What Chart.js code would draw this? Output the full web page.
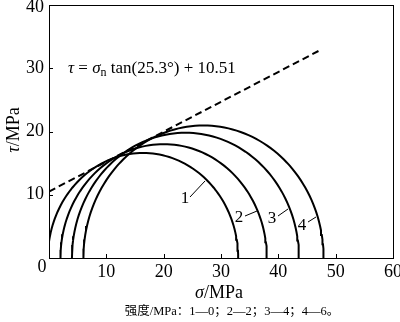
<!DOCTYPE html>
<html>
<head>
<meta charset="utf-8">
<script src="https://cdn.jsdelivr.net/npm/chart.js@4.4.0/dist/chart.umd.min.js"></script>
<style>
  html, body { margin: 0; padding: 0; background: #fff; }
  #wrap { width: 400px; height: 322px; }
</style>
</head>
<body>
<div id="wrap"><canvas id="myChart" width="400" height="322"></canvas></div>
<script>
// Mohr circles: minor and major principal stress (MPa)
var circleNames = ['1', '2', '3', '4'];
var sigma3 = [-0.2, 2, 4, 6];
var sigma1 = [33.0, 38.0, 43.6, 47.9];

// strength envelope: tau = sigma * tan(phi) + c
var phiDeg = 25.3;
var cohesion = 10.51;
var envelopeX = [0, 47];

var xTicks = [0, 10, 20, 30, 40, 50, 60];
var yTicks = [0, 10, 20, 30, 40];

// label "n" placed near each circle, with leader end points
var labelPos = [[185, 199], [239, 218], [272, 219], [302, 226]];
var leaderFrom = [[190, 197], [245, 216], [278, 216], [308, 222]];
var leaderTo = [[205, 181], [257, 211], [288, 209], [316, 217]];

var serif = '"Liberation Serif", "Times New Roman", serif';

var semicircle = function (s3, s1) {
    var c = (s3 + s1) / 2, r = (s1 - s3) / 2;
    var pts = [];
    for (var a = 0; a <= 180; a += 2) {
        var t = a * Math.PI / 180;
        pts.push({ x: c + r * Math.cos(t), y: r * Math.sin(t) });
    }
    return pts;
};

var datasets = [];
for (var i = 0; i < circleNames.length; i++) {
    datasets.push({
        label: circleNames[i],
        data: semicircle(sigma3[i], sigma1[i]),
        showLine: true,
        borderColor: '#000',
        borderWidth: 2,
        pointRadius: 0,
        tension: 0
    });
}
var tanPhi = Math.tan(phiDeg * Math.PI / 180);
datasets.push({
    label: 'envelope',
    data: envelopeX.map(function (x) { return { x: x, y: x * tanPhi + cohesion }; }),
    showLine: true,
    borderColor: '#000',
    borderWidth: 2,
    borderDash: [7, 4],
    pointRadius: 0
});

var decorPlugin = {
    id: 'decor',
    afterDraw: function (chart) {
        var ctx = chart.ctx;
        var area = chart.chartArea;
        var xs = chart.scales.x, ys = chart.scales.y;
        ctx.save();
        ctx.strokeStyle = '#000';
        ctx.lineWidth = 1;
        ctx.strokeRect(area.left + 0.5, area.top + 0.5, area.right - area.left, area.bottom - area.top);
        // inward ticks
        ctx.beginPath();
        xTicks.forEach(function (v) {
            var px = Math.round(xs.getPixelForValue(v)) + 0.5;
            ctx.moveTo(px, area.bottom);
            ctx.lineTo(px, area.bottom - 4);
        });
        yTicks.forEach(function (v) {
            var py = Math.round(ys.getPixelForValue(v)) + 0.5;
            ctx.moveTo(area.left, py);
            ctx.lineTo(area.left + 4, py);
        });
        ctx.stroke();

        ctx.fillStyle = '#000';
        ctx.textBaseline = 'middle';
        // shared origin label, and top label kept inside the canvas
        ctx.font = '18px ' + serif;
        ctx.textAlign = 'center';
        ctx.fillText('0', 42, 267);
        ctx.textAlign = 'right';
        ctx.fillText(String(yTicks[yTicks.length - 1]), 44, 7);

        // circle labels and leaders
        ctx.textAlign = 'center';
        ctx.font = '17px ' + serif;
        for (var i = 0; i < circleNames.length; i++) {
            ctx.fillText(circleNames[i], labelPos[i][0], labelPos[i][1]);
            ctx.beginPath();
            ctx.moveTo(leaderFrom[i][0], leaderFrom[i][1]);
            ctx.lineTo(leaderTo[i][0], leaderTo[i][1]);
            ctx.stroke();
        }

        // equation
        ctx.textAlign = 'left';
        var x = 68, y = 69;
        var parts = [
            ['italic 17px ' + serif, '\u03c4', 0],
            ['17px ' + serif, ' = ', 0],
            ['italic 17px ' + serif, '\u03c3', 0],
            ['12px ' + serif, 'n', 4],
            ['17px ' + serif, ' tan(' + phiDeg + '\u00b0) + ' + cohesion, 0]
        ];
        parts.forEach(function (p) {
            ctx.font = p[0];
            ctx.fillText(p[1], x, y + p[2]);
            x += ctx.measureText(p[1]).width;
        });

        // axis titles
        var drawRun = function (runs, cx, cy) {
            var w = 0;
            runs.forEach(function (r) { ctx.font = r[0]; w += ctx.measureText(r[1]).width; });
            var sx = cx - w / 2;
            runs.forEach(function (r) {
                ctx.font = r[0];
                ctx.fillText(r[1], sx, cy);
                sx += ctx.measureText(r[1]).width;
            });
        };
        ctx.textAlign = 'left';
        drawRun([['italic 18px ' + serif, '\u03c3'], ['18px ' + serif, '/MPa']], 219, 293);

        ctx.save();
        ctx.translate(14, 130);
        ctx.rotate(-Math.PI / 2);
        drawRun([['italic 18px ' + serif, '\u03c4'], ['18px ' + serif, '/MPa']], 0, 0);
        ctx.restore();

        // caption
        ctx.font = '12.5px "Liberation Serif", "Noto Sans CJK SC"';
        ctx.textAlign = 'center';
        ctx.fillText('\u5f3a\u5ea6/MPa\uff1a1\u20140\uff1b2\u20142\uff1b3\u20144\uff1b4\u20146\u3002', 232, 312);
        ctx.restore();
    }
};

new Chart(document.getElementById('myChart'), {
    type: 'scatter',
    data: { datasets: datasets },
    options: {
        responsive: false,
        animation: false,
        events: [],
        layout: { padding: { top: 5, right: 7, left: 0, bottom: 0 } },
        plugins: { legend: { display: false }, tooltip: { enabled: false } },
        scales: {
            x: {
                type: 'linear', min: 0, max: 60,
                afterFit: function (s) { s.height = 64; s.paddingLeft = 0; s.paddingRight = 0; },
                afterBuildTicks: function (s) { s.ticks = xTicks.map(function (v) { return { value: v }; }); },
                grid: { display: false, drawTicks: false },
                border: { display: false },
                ticks: {
                    color: '#000', padding: 3,
                    font: { family: serif, size: 18 },
                    callback: function (v) { return v === 0 ? '' : v; }
                }
            },
            y: {
                type: 'linear', min: 0, max: 40,
                afterFit: function (s) { s.width = 49; s.paddingTop = 0; s.paddingBottom = 0; },
                afterBuildTicks: function (s) { s.ticks = yTicks.map(function (v) { return { value: v }; }); },
                grid: { display: false, drawTicks: false },
                border: { display: false },
                ticks: {
                    color: '#000', padding: 5,
                    font: { family: serif, size: 18 },
                    callback: function (v) { return v === 0 || v === 40 ? '' : v; }
                }
            }
        }
    },
    plugins: [decorPlugin]
});
</script>
</body>
</html>
